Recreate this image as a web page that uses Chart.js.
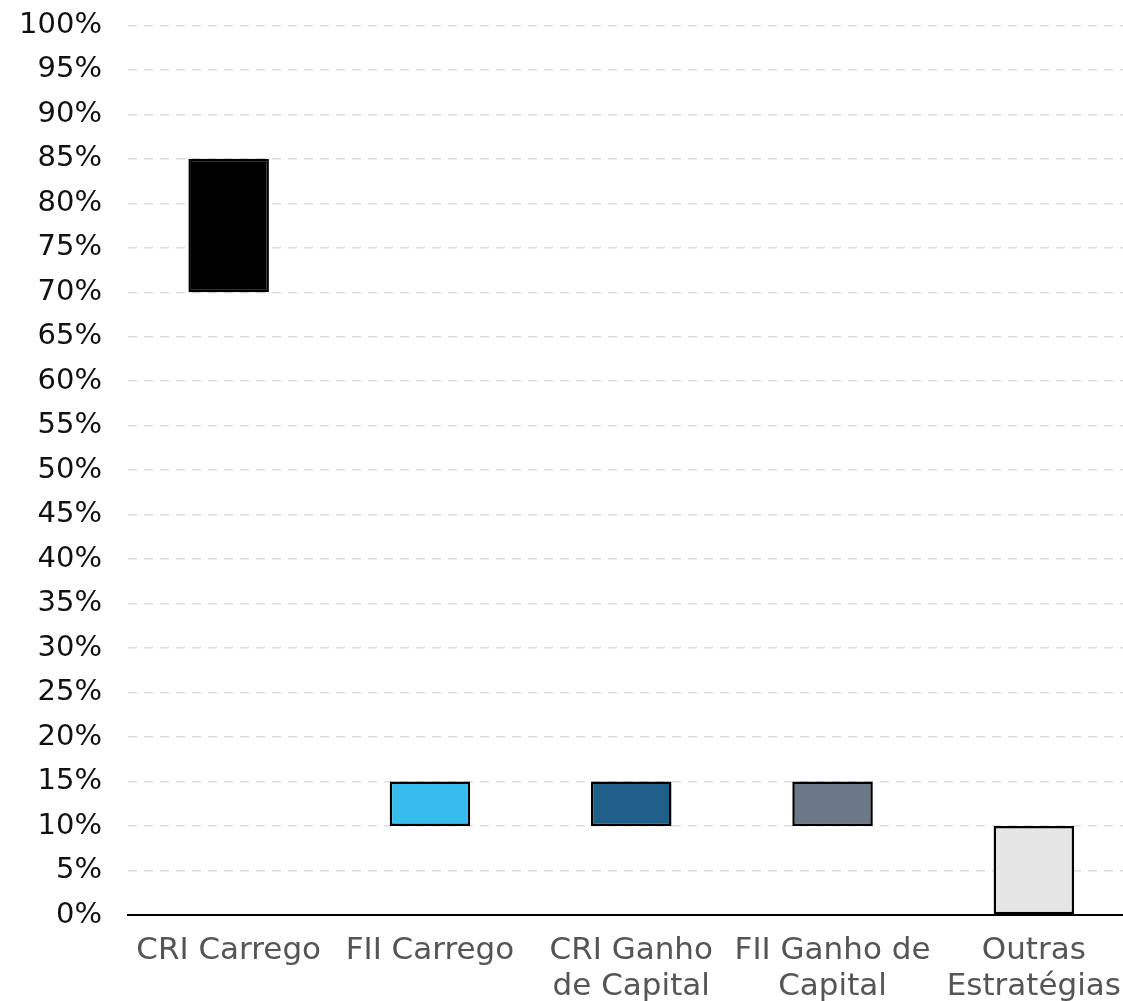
<!DOCTYPE html>
<html>
<head>
<meta charset="utf-8">
<script src="https://cdn.jsdelivr.net/npm/chart.js@4"></script>
<style>
  html, body { margin: 0; padding: 0; background: #fff; overflow: hidden; }
  #wrap { position: absolute; left: 0; top: -18px; width: 1139px; height: 1019px; }
</style>
</head>
<body>
<div id="wrap"><canvas id="chart"></canvas></div>
<script>
const categories = [
  "CRI Carrego",
  "FII Carrego",
  ["CRI Ganho", "de Capital"],
  ["FII Ganho de", "Capital"],
  ["Outras", "Estratégias"],
];
const rangeLow = [70, 10, 10, 10, 0];
const rangeHigh = [85, 15, 15, 15, 10];
const barColors = ["#000000", "#35BCEC", "#1F5F8A", "#6B7888", "#E5E5E5"];
const yMin = 0;
const yMax = 100;
const yStep = 5;

const ctx = document.getElementById("chart").getContext("2d");

new Chart(ctx, {
  type: "bar",
  data: {
    labels: categories,
    datasets: [
      {
        data: rangeLow.map((lo, i) => [lo, rangeHigh[i]]),
        backgroundColor: barColors,
        borderColor: "#000000",
        borderWidth: 2.5,
        borderSkipped: false,
        barPercentage: 0.4,
        categoryPercentage: 1,
      },
    ],
  },
  options: {
    responsive: true,
    maintainAspectRatio: false,
    animation: false,
    plugins: {
      legend: { display: false },
      tooltip: { enabled: false },
    },
    scales: {
      x: {
        grid: { display: false, drawTicks: false },
        border: { display: true, color: "#000000", width: 2 },
        ticks: {
          color: "#555555",
          font: { family: "DejaVu Sans", size: 31, lineHeight: 1.15 },
          padding: 18,
          maxRotation: 0,
          autoSkip: false,
        },
        afterFit: (axis) => { axis.height = 86; },
      },
      y: {
        min: yMin,
        max: yMax,
        grid: { color: "#dddddd", lineWidth: 1.5, drawTicks: false },
        border: { display: false, dash: [9, 7] },
        ticks: {
          stepSize: yStep,
          color: "#111111",
          font: { family: "DejaVu Sans", size: 29 },
          padding: 26,
          callback: (v) => v + "%",
        },
        afterFit: (axis) => { axis.width = 128; },
      },
    },
  },
});
</script>
</body>
</html>
